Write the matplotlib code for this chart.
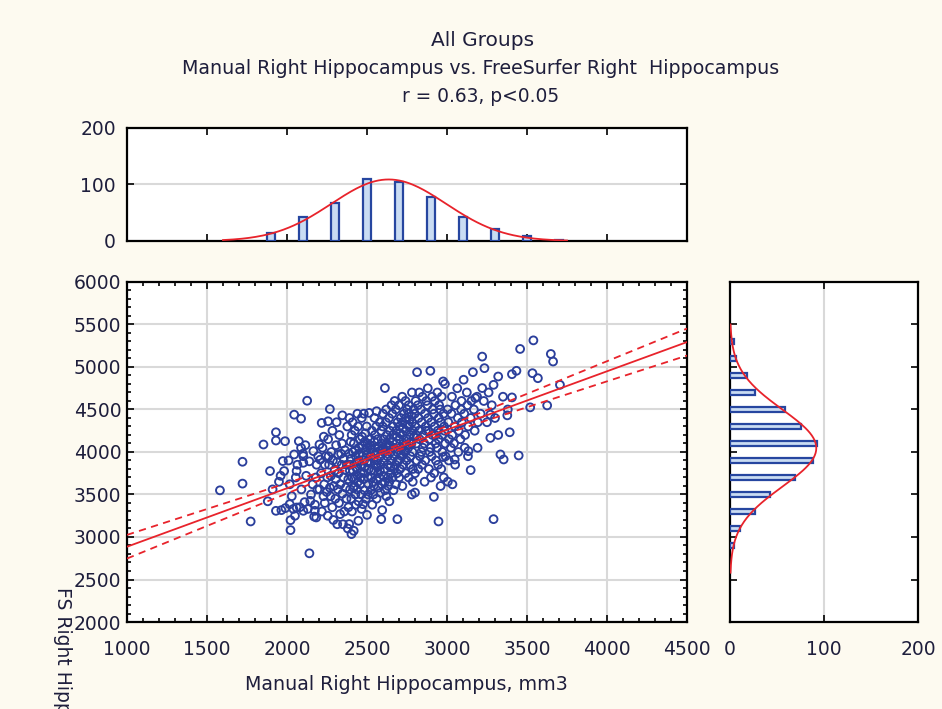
import numpy as np
import matplotlib
matplotlib.use('Agg')
import matplotlib.pyplot as plt
from matplotlib.ticker import MultipleLocator

plt.rcParams['font.family'] = ['DejaVu Sans']

# scatter points (manual volume, FreeSurfer volume)
outer_points = [
    (1581, 3549), (1722, 3885), (1722, 3628), (1773, 3183), (1853, 4088), (1931, 4232),
    (1931, 4135), (1894, 3776), (1931, 3308), (1965, 3316), (1974, 3893), (1982, 3776),
    (1988, 4127), (2022, 3081), (2022, 3198), (2045, 4439), (2088, 4392), (2126, 4603),
    (2140, 2808), (2074, 4127), (2088, 4049), (2045, 3971), (2102, 3951), (2102, 3873),
    (2060, 3776), (2017, 3620), (2017, 3386), (2060, 3347), (2102, 3308), (2174, 3308),
    (2183, 3230), (2146, 3425), (2217, 4342), (2257, 4361), (2268, 4505), (2346, 4431),
    (2203, 4088), (2403, 3034), (2417, 3073), (2389, 3152), (2446, 3191), (2332, 3269),
    (2475, 3386), (2589, 3210), (2595, 3316), (2690, 3210), (2800, 3522), (2918, 3472),
    (2947, 3183), (2813, 4939), (2896, 4955), (2976, 4830), (2612, 4752), (3162, 4939),
    (3220, 5122), (3234, 4986), (3320, 4888), (3406, 4915), (3434, 4955), (3457, 5212),
    (3540, 5313), (3534, 4927), (3568, 4868), (3649, 5153), (3663, 5064), (3626, 4548),
    (3520, 4525), (3706, 4790), (3377, 4431), (3392, 4232), (3334, 3971), (3354, 3912),
    (3448, 3959), (3291, 3210), (3271, 4166), (3271, 4439), (3148, 3787), (3134, 4010),
    (3191, 4049), (3034, 3620), (3005, 3651), (2976, 3940), (3048, 3912), (3406, 4642),
    (3177, 4634), (3220, 4752), (3291, 4790),
    (1880, 3420), (1910, 3560), (1950, 3650), (1990, 3340), (1960, 3720),
    (2010, 3900), (2030, 3480), (2040, 3330), (2055, 3700), (2065, 3850), (2080, 3350),
    (2090, 3560), (2110, 3410), (2120, 3720), (2130, 3330), (2140, 3890), (2150, 3500),
    (2160, 3620), (2165, 4010), (2175, 3380), (2185, 3850), (2190, 3560), (2195, 3950),
    (2170, 3240), (2115, 4080), (2050, 3250), (2100, 3980), (2180, 3700),
]

# dense middle of the cloud, estimated band by band
core_points = [
    # 2200-2400
    (2203, 3560), (2208, 3910), (2213, 3750), (2218, 3300), (2222, 4050), (2228, 3480),
    (2230, 4180), (2233, 3620), (2237, 3850), (2236, 3400), (2243, 3950), (2248, 3530),
    (2252, 3700), (2257, 4150), (2255, 3250), (2260, 3950), (2263, 3850), (2268, 3580),
    (2272, 3480), (2277, 4000), (2274, 3720), (2283, 3350), (2287, 3900), (2284, 4250),
    (2290, 3200), (2293, 3600), (2298, 3780), (2302, 3450), (2307, 4080), (2305, 3680),
    (2310, 4350), (2313, 3880), (2318, 3560), (2314, 3150), (2320, 3970), (2322, 3750),
    (2327, 4200), (2325, 3400), (2333, 3620), (2338, 3980), (2342, 3850), (2347, 3510),
    (2344, 4100), (2350, 3150), (2353, 3700), (2358, 3300), (2355, 3920), (2362, 4020),
    (2367, 3580), (2364, 3790), (2372, 3450), (2377, 4300), (2374, 3850), (2380, 3100),
    (2383, 3680), (2388, 3980), (2384, 3350), (2390, 4400), (2393, 3780), (2398, 4120),
    (2394, 3560),
    # 2400-2600
    (2402, 3450), (2408, 3700), (2396, 3850), (2412, 4000), (2404, 4200), (2415, 3580),
    (2399, 3920), (2410, 4350), (2406, 3300), (2413, 3780),
    (2421, 3600), (2430, 3950), (2418, 4100), (2427, 3500), (2433, 3820), (2424, 4250),
    (2419, 3680), (2431, 3380), (2426, 4020), (2435, 3880),
    (2441, 3720), (2449, 4050), (2438, 3560), (2452, 3900), (2444, 4300), (2447, 3420),
    (2439, 3800), (2455, 4150), (2443, 3650), (2450, 3980),
    (2462, 3850), (2469, 4180), (2458, 3620), (2471, 3950), (2464, 3500), (2467, 4400),
    (2460, 3760), (2473, 4080), (2466, 3330), (2461, 3700),
    (2482, 3900), (2489, 4220), (2478, 3680), (2491, 4020), (2484, 3550), (2487, 3820),
    (2480, 4450), (2493, 3450), (2486, 4120), (2481, 3750),
    (2502, 3980), (2509, 3620), (2498, 4300), (2511, 3800), (2504, 4100), (2507, 3500),
    (2500, 3880), (2513, 4460), (2506, 3700), (2501, 4050),
    (2522, 4030), (2529, 3700), (2518, 3880), (2531, 4250), (2524, 3550), (2527, 3950),
    (2520, 4150), (2533, 3380), (2526, 3780), (2521, 4080),
    (2542, 3920), (2549, 4200), (2538, 3650), (2551, 4050), (2544, 3780), (2547, 4400),
    (2540, 3500), (2553, 3850), (2546, 4120), (2541, 3600),
    (2562, 4000), (2569, 3750), (2558, 4300), (2571, 3580), (2564, 3900), (2567, 4150),
    (2560, 3450), (2573, 4050), (2566, 3820), (2561, 3680),
    (2582, 3950), (2589, 4250), (2578, 3700), (2591, 4100), (2584, 3520), (2587, 3850),
    (2580, 4350), (2593, 3620), (2586, 4020), (2581, 3780),
    (2440, 4450), (2560, 4480), (2500, 3260),
    # 2600-2800
    (2602, 4050), (2609, 3800), (2598, 4300), (2611, 3650), (2604, 4150), (2607, 3900),
    (2600, 4450), (2613, 3550), (2606, 4000), (2601, 3720),
    (2622, 4100), (2629, 3850), (2618, 4350), (2631, 3700), (2624, 4200), (2627, 3950),
    (2620, 4500), (2633, 3600), (2626, 4050), (2621, 3480),
    (2642, 4150), (2649, 3900), (2638, 4400), (2651, 3750), (2644, 4250), (2647, 4000),
    (2640, 3650), (2653, 4550), (2646, 3820), (2641, 4080),
    (2662, 4200), (2669, 3950), (2658, 4450), (2671, 3800), (2664, 4300), (2667, 4050),
    (2660, 3700), (2673, 4600), (2666, 3550), (2661, 4120),
    (2682, 4250), (2689, 4000), (2678, 3850), (2691, 4350), (2684, 4100), (2687, 3750),
    (2680, 4500), (2693, 3900), (2686, 4180), (2681, 3620),
    (2702, 4300), (2709, 4050), (2698, 3900), (2711, 4400), (2704, 4150), (2707, 3800),
    (2700, 4550), (2713, 3980), (2706, 4220), (2701, 3700),
    (2722, 4350), (2729, 4100), (2718, 3950), (2731, 4450), (2724, 4200), (2727, 3850),
    (2720, 4650), (2733, 4020), (2726, 4280), (2721, 3600),
    (2742, 4400), (2749, 4150), (2738, 4000), (2751, 4500), (2744, 4250), (2747, 3900),
    (2740, 3750), (2753, 4320), (2746, 4080), (2741, 4600),
    (2762, 4450), (2769, 4200), (2758, 4050), (2771, 3950), (2764, 4300), (2767, 3850),
    (2760, 4550), (2773, 4120), (2766, 4380), (2761, 3700),
    (2782, 4350), (2789, 4250), (2778, 4100), (2791, 4500), (2784, 4000), (2787, 3800),
    (2780, 4420), (2793, 4180), (2786, 3650), (2781, 4700),
    (2640, 3420), (2780, 3500),
    # 2800-3000
    (2802, 4300), (2809, 4100), (2798, 4450), (2811, 3900), (2804, 4600), (2807, 4200), (2800, 3750),
    (2822, 4400), (2829, 4150), (2818, 4550), (2831, 3950), (2824, 4250), (2827, 4700), (2820, 3800),
    (2842, 4350), (2849, 4050), (2838, 4500), (2851, 4200), (2844, 3850), (2847, 4650), (2840, 4000),
    (2862, 4450), (2869, 4250), (2858, 4100), (2871, 4600), (2864, 3900), (2867, 4300), (2860, 3650),
    (2882, 4400), (2889, 4150), (2878, 4550), (2891, 4000), (2884, 4250), (2887, 3800), (2880, 4750),
    (2902, 4350), (2909, 4200), (2898, 4050), (2911, 4500), (2904, 3950), (2907, 4650), (2900, 3700),
    (2922, 4300), (2929, 4100), (2918, 4450), (2931, 3900), (2924, 4600), (2927, 4200), (2920, 3750),
    (2942, 4250), (2949, 4400), (2938, 4050), (2951, 4550), (2944, 3850), (2947, 4150), (2940, 4700),
    (2962, 4350), (2969, 4200), (2958, 4500), (2971, 4000), (2964, 3800), (2967, 4650), (2960, 3600),
    (2982, 4300), (2989, 4100), (2978, 4450), (2991, 3950), (2984, 4250), (2987, 4800), (2980, 3700),
    # 3000-3400
    (3008, 4350), (3013, 4150), (3004, 4500), (3011, 3900), (3028, 4450), (3033, 4200),
    (3024, 4050), (3031, 4650), (3048, 4300), (3053, 4550), (3044, 4100), (3051, 3850),
    (3068, 4400), (3073, 4250), (3064, 4750), (3071, 4000), (3088, 4500), (3093, 4350),
    (3084, 4150), (3091, 4600), (3108, 4450), (3113, 4200), (3104, 4850), (3111, 4050),
    (3128, 4550), (3133, 4300), (3124, 4700), (3131, 3950), (3148, 4400), (3153, 4600),
    (3168, 4500), (3173, 4250), (3188, 4650), (3193, 4350),
    (3210, 4450), (3230, 4600), (3250, 4350), (3260, 4700), (3280, 4550), (3300, 4400),
    (3320, 4200), (3350, 4650), (3380, 4500),
]

# marginal histograms: bin centres and counts
manual_bins = [1900, 2100, 2300, 2500, 2700, 2900, 3100, 3300, 3500, 3700]
manual_counts = [14, 42, 68, 109, 104, 77, 42, 21, 9, 2]
fs_bins = [2900, 3100, 3300, 3500, 3700, 3900, 4100, 4300, 4500, 4700, 4900, 5100, 5300]
fs_counts = [4, 11, 27, 42, 69, 88, 93, 75, 58, 27, 18, 6, 4]
bin_width = 200

BG = '#fdfaf0'
BLUE = '#2b3f9c'
RED = '#e8232b'
GRID = '#d9d9d9'
TXT = '#1e1e3c'

pts = np.array(outer_points + core_points, dtype=float)
mx, fy = pts[:, 0], pts[:, 1]

# linear fit with 95% confidence band
slope, icpt = np.polyfit(mx, fy, 1)
n = len(mx)
resid = fy - (icpt + slope * mx)
s = np.sqrt(np.sum(resid ** 2) / (n - 2))
sxx = np.sum((mx - mx.mean()) ** 2)
xl = np.linspace(1000, 4500, 200)
yl = icpt + slope * xl
band = 1.96 * s * np.sqrt(1.0 / n + (xl - mx.mean()) ** 2 / sxx)


def normal_curve(centres, counts, lo, hi):
    c = np.array(centres, float)
    w = np.array(counts, float)
    mu = np.sum(c * w) / w.sum()
    sd = np.sqrt(np.sum(w * (c - mu) ** 2) / w.sum())
    t = np.linspace(lo, hi, 200)
    return t, w.sum() * bin_width * np.exp(-0.5 * ((t - mu) / sd) ** 2) / (sd * np.sqrt(2 * np.pi))


fig = plt.figure(figsize=(9.42, 7.09), dpi=100, facecolor=BG)
ax = fig.add_axes([0.1348, 0.1227, 0.5945, 0.4796])
ax_top = fig.add_axes([0.1348, 0.6601, 0.5945, 0.1594])
ax_right = fig.add_axes([0.775, 0.1227, 0.1995, 0.4796])

for a in (ax, ax_top, ax_right):
    a.set_facecolor('white')
    for sp in a.spines.values():
        sp.set_linewidth(1.6)
        sp.set_color('black')
    a.tick_params(which='both', direction='in', top=True, right=True,
                  colors='black', labelcolor=TXT, labelsize=13.5, width=1.2)
    a.tick_params(which='major', length=5)
    a.tick_params(which='minor', length=3)

# main scatter
ax.scatter(mx, fy, s=32, facecolors='none', edgecolors=BLUE, linewidths=1.35, zorder=3)
ax.plot(xl, yl, color=RED, lw=1.3, zorder=4)
ax.plot(xl, yl + band, color=RED, lw=1.3, ls=(0, (4, 3)), zorder=4)
ax.plot(xl, yl - band, color=RED, lw=1.3, ls=(0, (4, 3)), zorder=4)
ax.set_xlim(1000, 4500)
ax.set_ylim(2000, 6000)
ax.set_xticks(np.arange(1000, 4501, 500))
ax.set_yticks(np.arange(2000, 6001, 500))
ax.xaxis.set_minor_locator(MultipleLocator(100))
ax.yaxis.set_minor_locator(MultipleLocator(100))
ax.grid(True, which='major', color=GRID, lw=1.5, zorder=0)
ax.set_axisbelow(True)
ax.tick_params(axis='x', pad=13)
ax.tick_params(axis='y', pad=4)

# top histogram
ax_top.bar(manual_bins, manual_counts, width=45, facecolor='#c9dcf3',
           edgecolor='#2646a0', lw=1.6, zorder=3)
tx, ty = normal_curve(manual_bins, manual_counts, 1600, 3750)
ax_top.plot(tx, ty, color=RED, lw=1.3, zorder=4)
ax_top.set_xlim(1000, 4500)
ax_top.set_ylim(0, 200)
ax_top.set_xticks(np.arange(1500, 4001, 500))
ax_top.set_xticklabels([])
ax_top.set_yticks([0, 100, 200])
ax_top.yaxis.grid(True, color=GRID, lw=1.5, zorder=0)
ax_top.set_axisbelow(True)
ax_top.tick_params(axis='y', pad=8)

# right histogram
ax_right.barh(fs_bins, fs_counts, height=55, facecolor='#c9dcf3',
              edgecolor='#2646a0', lw=1.6, zorder=3)
cy, cx = normal_curve(fs_bins, fs_counts, 2580, 5500)
ax_right.plot(cx, cy, color=RED, lw=1.3, zorder=4)
ax_right.set_xlim(0, 200)
ax_right.set_ylim(2000, 6000)
ax_right.set_xticks([0, 100, 200])
ax_right.set_yticks(np.arange(2500, 5501, 500))
ax_right.set_yticklabels([])
ax_right.xaxis.grid(True, color=GRID, lw=1.5, zorder=0)
ax_right.set_axisbelow(True)
ax_right.tick_params(axis='x', pad=13)

# titles and labels
fig.text(0.512, 1 - 41 / 709, 'All Groups', ha='center', va='center', fontsize=14.5, color=TXT)
fig.text(0.510, 1 - 68 / 709, 'Manual Right Hippocampus vs. FreeSurfer Right  Hippocampus',
         ha='center', va='center', fontsize=13.7, color=TXT)
fig.text(0.510, 1 - 96 / 709, 'r = 0.63, p<0.05', ha='center', va='center', fontsize=13.4, color=TXT)
fig.text(0.431, 1 - 684 / 709, 'Manual Right Hippocampus, mm3', ha='center', va='center',
         fontsize=13.7, color=TXT)
fig.text(0.066, 1 - 587 / 709, 'FS Right Hippocampus, mm3', ha='center', va='top',
         rotation=270, fontsize=13.5, color=TXT, zorder=0)

fig.savefig('out.png', dpi=100, facecolor=BG)
